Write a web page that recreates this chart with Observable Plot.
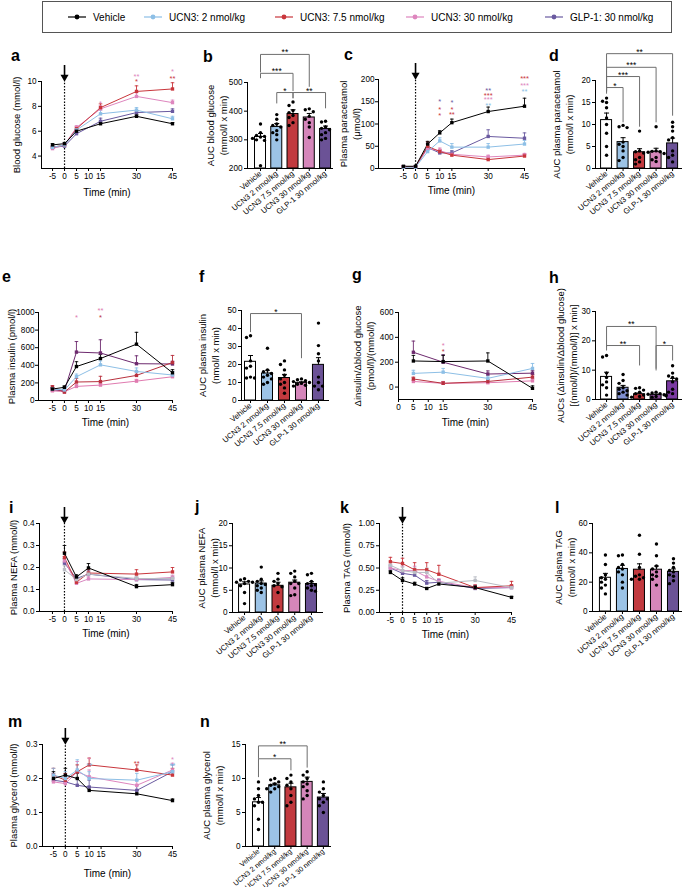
<!DOCTYPE html>
<html><head><meta charset="utf-8">
<script src="https://cdn.jsdelivr.net/npm/d3@7"></script>
<script src="https://cdn.jsdelivr.net/npm/@observablehq/plot@0.6"></script>
<style>
body{margin:0;background:#fff;font-family:"Liberation Sans",Arial,sans-serif;}
#root{position:relative;width:685px;height:887px;overflow:hidden;background:#fff;}
.pan{position:absolute;}
.pan svg{overflow:visible!important;background:transparent!important;}
.lbl{position:absolute;font-weight:bold;font-size:16px;line-height:16px;font-family:"Liberation Sans",Arial,sans-serif;}
#legend{position:absolute;left:42px;top:1px;width:630px;height:32px;border:1px solid #555;box-sizing:border-box;}
.li{position:absolute;top:0;height:30px;display:flex;align-items:center;font-size:10px;font-family:"Liberation Sans Narrow","Liberation Sans",Arial,sans-serif;white-space:nowrap;}
.li svg{margin-right:6px;}
</style></head><body><div id="root"><div id="legend"></div></div>
<script>
// ---------- shared categories / colours ----------
const groupNames = ["Vehicle","UCN3: 2 nmol/kg","UCN3: 7.5 nmol/kg","UCN3: 30 nmol/kg","GLP-1: 30 nmol/kg"];
const barLabels = ["Vehicle","UCN3 2 nmol/kg","UCN3 7.5 nmol/kg","UCN3 30 nmol/kg","GLP-1 30 nmol/kg"];
const lineColors = ["#000000","#8dbfe6","#c9363c","#de86be","#6a5aa0"];
const insulinColors = ["#000000","#8dbfe6","#b8313e","#e07bb0","#6d2a6e"];
const lipidColors = ["#000000","#b9bcc4","#c9363c","#d888c0","#6a5aa0"];
const barFills = ["#ffffff","#9cc3e6","#c23a3f","#d586ba","#6b5296"];
const hFills = ["#ffffff","#7f8fd0","#c0353b","#8a4a9a","#7a3aa2"];
const legendX = [76,152,283,414,553];

// ---------- a: blood glucose ----------
const timeA = [-5,0,5,15,30,45];
const glucoseMean = [
 [4.9,5.0,6.0,6.6,7.2,6.6],
 [4.7,4.9,6.1,7.4,7.7,7.0],
 [4.7,4.9,6.2,7.9,9.2,9.4],
 [4.6,4.9,6.3,7.8,8.8,8.3],
 [4.7,4.8,5.8,6.8,7.5,7.6]];
const glucoseSem = [
 [0.1,0.1,0.12,0.12,0.12,0.1],
 [0.1,0.1,0.12,0.3,0.2,0.2],
 [0.1,0.1,0.15,0.3,0.45,0.5],
 [0.1,0.1,0.15,0.25,0.3,0.2],
 [0.1,0.1,0.12,0.25,0.15,0.2]];
const glucoseStars = [{t:15,y:8.4,s:"*",g:3},{t:30,y:10.56,s:"**",g:3},{t:30,y:10.16,s:"*",g:2},{t:45,y:10.97,s:"*",g:3},{t:45,y:10.4,s:"**",g:2}];

// ---------- b: AUC glucose ----------
const glucoseAuc = [310,345,390,378,338];
const glucoseAucSem = [12,12,15,14,10];
const glucoseAucPts = [
 [355,325,315,312,310,305,300,298,210],
 [388,372,355,350,345,332,325,318,300],
 [432,420,402,395,385,378,360,350],
 [408,405,398,382,372,360,345,308],
 [365,362,345,340,335,325,318,305,300]];
const glucoseAucBrackets = [
 {a:0,b:3,y:598,ya:535,yb:485,s:"**"},
 {a:0,b:2,y:532,ya:515,yb:470,s:"***"},
 {a:1,b:2,y:465,ya:427,yb:445,s:"*"},
 {a:2,b:4,y:465,ya:445,yb:410,s:"**"}];

// ---------- c: paracetamol ----------
const timeC = [-5,0,5,10,15,30,45];
const paraMean = [
 [5,5,55,80,103,128,140],
 [3,3,38,62,48,48,55],
 [4,4,50,38,30,20,28],
 [4,4,45,40,32,26,30],
 [4,4,47,35,35,72,68]];
const paraSem = [
 [1,1,6,5,8,10,18],
 [1,1,5,7,8,8,8],
 [1,1,10,5,4,4,4],
 [1,1,12,6,4,4,4],
 [1,1,8,5,5,15,12]];
const paraStars = [
 {t:10,y:157,s:"*",g:4},{t:10,y:139,s:"*",g:2},{t:10,y:124,s:"*",g:2},
 {t:15,y:153,s:"*",g:4},{t:15,y:139,s:"*",g:2},{t:15,y:126,s:"**",g:2},
 {t:30,y:180,s:"**",g:4},{t:30,y:169,s:"***",g:2},{t:30,y:160,s:"***",g:3},{t:30,y:148,s:"**",g:1},
 {t:45,y:207,s:"***",g:2},{t:45,y:193,s:"***",g:3},{t:45,y:178,s:"**",g:1}];

// ---------- d: AUC paracetamol ----------
const paraAuc = [11,6,3.7,3.8,5.7];
const paraAucSem = [1.6,1,0.8,0.8,1.2];
const paraAucPts = [
 [16,15.3,15,13.8,11.5,10,8,5,3],
 [9.8,9.5,9.3,6,5.5,5,4,2.5,1.8],
 [8.5,4,3.8,3.5,2.5,2,1.5,1],
 [9.5,4,3.9,3.8,3.7,3.4,2.5,2,1.6],
 [10.5,9.5,8.5,7,6.5,4,3,2.5,1.5]];
const paraAucBrackets = [
 {a:0,b:4,y:26.1,ya:17.5,yb:12,s:"**"},
 {a:0,b:3,y:23,ya:17.5,yb:10.5,s:"***"},
 {a:0,b:2,y:20.9,ya:17.5,yb:9.5,s:"***"},
 {a:0,b:1,y:18.4,ya:17,yb:10.5,s:"*"}];

// ---------- e: insulin ----------
const timeE = [-5,0,5,15,30,45];
const insulinMean = [
 [130,150,386,477,640,315],
 [130,120,270,405,330,290],
 [150,95,210,215,285,432],
 [110,100,160,175,220,270],
 [120,110,550,540,418,415]];
const insulinSem = [
 [15,15,55,45,135,35],
 [20,15,30,45,40,40],
 [20,15,40,60,40,80],
 [15,10,20,20,20,20],
 [20,15,120,150,90,30]];
const insulinStars = [{t:5,y:966,s:"*",g:3},{t:15,y:1045,s:"**",g:3},{t:15,y:966,s:"*",g:2}];

// ---------- f: AUC insulin ----------
const insulinAuc = [21.5,15,12.5,9.8,19.8];
const insulinAucSem = [3.5,1.8,2,0.6,4];
const insulinAucPts = [
 [36,35,22,19,18,13,12.5,12.5],
 [29,17,16,15,14,13,12,10,9],
 [22,20,17,14,12,10,9,7,4],
 [12,11.5,11,10.5,10,9.5,9,8.5,8],
 [43,30.5,26,22,13,10,8,8,6]];
const insulinAucBrackets = [{a:0,b:3,y:48.3,ya:38,yb:23.5,s:"*"}];

// ---------- g: insulin / glucose ratio ----------
const timeG = [5,15,30,45];
const ratioMean = [
 [210,205,210,-10],
 [110,120,70,150],
 [65,30,45,80],
 [45,30,35,50],
 [280,200,105,112]];
const ratioSem = [
 [45,50,65,20],
 [25,30,20,40],
 [15,15,15,20],
 [10,10,10,15],
 [90,60,25,20]];
const ratioStars = [{t:15,y:352,s:"*",g:3},{t:15,y:304,s:"*",g:2}];

// ---------- h: AUC ratio ----------
const ratioAuc = [7.7,4,1.8,1.6,6.2];
const ratioAucSem = [1.6,0.8,0.4,0.2,1];
const ratioAucPts = [
 [15,14.5,9,7.5,6,5,4,1.5],
 [8.5,6.5,5.5,4,3.5,3,2.5,2,1.5],
 [4,3.8,3.2,2.5,2,1.5,1,0.8],
 [2.5,2.2,2,1.8,1.5,1.3,1,0.8,1.6],
 [11.5,9,8,7.5,7,6,3.5,2.5,2]];
const ratioAucBrackets = [
 {a:0,b:3,y:24.9,ya:17.8,yb:10.5,s:"**"},
 {a:0,b:2,y:18.4,ya:16.7,yb:11.6,s:"**"},
 {a:3,b:4,y:18.4,ya:9.9,yb:13.3,s:"*"}];

// ---------- i: NEFA ----------
const timeI = [0,5,10,30,45];
const nefaMean = [
 [0.265,0.157,0.198,0.113,0.122],
 [0.19,0.145,0.17,0.15,0.15],
 [0.245,0.133,0.175,0.17,0.18],
 [0.23,0.128,0.148,0.145,0.155],
 [0.22,0.15,0.17,0.145,0.143]];
const nefaSem = [
 [0.035,0.01,0.02,0.01,0.01],
 [0.02,0.01,0.01,0.01,0.01],
 [0.025,0.01,0.015,0.02,0.02],
 [0.02,0.01,0.01,0.01,0.01],
 [0.02,0.01,0.015,0.01,0.01]];

// ---------- j: AUC NEFA ----------
const nefaAuc = [6.3,6.5,6.0,6.7,6.4];
const nefaAucSem = [0.6,0.6,0.8,0.6,0.5];
const nefaAucPts = [
 [7.6,7.3,7,6.8,6.8,6.5,6,4.5,2],
 [10.2,7.5,7,6.5,6.3,6,5.5,5,4.5],
 [8.8,7.5,7,6.5,6,5.8,4.5,1.3],
 [9.3,8.8,8,7,6.5,6.5,5.5,4,3.8],
 [8.8,8.5,7,6.5,6.2,6,5.5,5,4.8]];

// ---------- k: TAG ----------
const timeK = [-5,0,5,10,15,30,45];
const tagMean = [
 [0.45,0.36,0.32,0.27,0.32,0.28,0.17],
 [0.53,0.47,0.45,0.45,0.33,0.36,0.28],
 [0.57,0.55,0.48,0.48,0.43,0.28,0.30],
 [0.50,0.47,0.47,0.40,0.35,0.28,0.28],
 [0.50,0.44,0.42,0.33,0.34,0.27,0.28]];
const tagSem = [
 [0.02,0.03,0.02,0.01,0.02,0.02,0.01],
 [0.04,0.04,0.05,0.05,0.03,0.04,0.03],
 [0.05,0.06,0.08,0.08,0.1,0.03,0.05],
 [0.04,0.05,0.05,0.05,0.03,0.03,0.02],
 [0.03,0.03,0.04,0.03,0.03,0.02,0.02]];

// ---------- l: AUC TAG ----------
const tagAuc = [23,29,28.5,28.5,27];
const tagAucSem = [3,2.5,4,2.5,2];
const tagAucPts = [
 [38.5,32,25,23,22,20,18,16,12],
 [38.5,38,32,30,29,27,25,20,16],
 [52,39,30,25,24,23,22,22],
 [46,38,31,29,27,25,24,22,18],
 [36,33,30,28,27,25,24,21,19]];

// ---------- m: glycerol ----------
const timeM = [-5,0,5,10,30,45];
const glyMean = [
 [0.20,0.21,0.20,0.165,0.155,0.135],
 [0.21,0.20,0.225,0.20,0.195,0.22],
 [0.21,0.195,0.22,0.24,0.225,0.21],
 [0.19,0.185,0.22,0.205,0.18,0.225],
 [0.195,0.19,0.18,0.175,0.165,0.22]];
const glySem = [
 [0.02,0.02,0.015,0.01,0.01,0.005],
 [0.02,0.02,0.03,0.02,0.02,0.02],
 [0.02,0.02,0.02,0.02,0.015,0.02],
 [0.02,0.02,0.03,0.02,0.015,0.02],
 [0.02,0.02,0.02,0.02,0.015,0.02]];
const glyStars = [{t:10,y:0.262,s:"*",g:3},{t:10,y:0.245,s:"**",g:1},{t:30,y:0.25,s:"**",g:2},{t:45,y:0.262,s:"*",g:3},{t:45,y:0.245,s:"**",g:1}];

// ---------- n: AUC glycerol ----------
const glyAuc = [6.5,9.0,8.7,9.5,7.2];
const glyAucSem = [0.7,0.3,0.6,0.7,0.6];
const glyAucPts = [
 [9.5,8.5,7.5,7,6.5,6.5,6,4,2.5],
 [10,9.8,9.5,9.2,9,8.8,8.5,8.5,8],
 [10.5,10,9.5,9,8.5,7.5,6.5,6],
 [11,10.5,10,9.5,9.2,8.8,8.2,7.5,7],
 [9.5,8.5,8,7.5,7,7,6.5,6,5]];
const glyAucBrackets = [
 {a:0,b:3,y:14.8,ya:12.9,yb:11.6,s:"**"},
 {a:0,b:2,y:12.9,ya:10.2,yb:11.2,s:"*"}];

// ================= drawing helpers =================
const root = document.getElementById("root");
const FONT = "Liberation Sans, Arial, sans-serif";
const TICK = 8.2, LAB = 9.5;
function place(node, left, top){
  const d = document.createElement("div"); d.className = "pan";
  d.style.left = left + "px"; d.style.top = top + "px";
  d.appendChild(node); root.appendChild(d);
}
function letter(ch, x, baseline){
  const d = document.createElement("div"); d.className = "lbl"; d.textContent = ch;
  d.style.left = x + "px"; d.style.top = (baseline - 13) + "px"; root.appendChild(d);
}
function frameOpts(c){
  return {
    width: c.width, height: c.height,
    marginLeft: c.fx0 - c.left, marginRight: c.left + c.width - c.fx1,
    marginTop: c.fy0 - c.top, marginBottom: c.top + c.height - c.fy1,
    x: {domain: c.xDomain}, y: {domain: c.yDomain},
    color: {type: "identity"},
    style: {fontFamily: FONT, fontSize: TICK + "px", overflow: "visible", background: "transparent", color: "#000"}
  };
}
function yLabelMark(c){
  return Plot.text([c.yLabel], {frameAnchor: "left", dx: c.yLabelDx, rotate: -90, fontSize: LAB, lineHeight: 1.35, textAnchor: "middle", lineAnchor: "middle", fill: "#000"});
}

function linePanel(c){
  const [xmin, xmax] = c.xDomain, [ymin, ymax] = c.yDomain;
  const pxY = (c.fy1 - c.fy0) / (ymax - ymin);
  const pxX = (c.fx1 - c.fx0) / (xmax - xmin);
  const rows = [];
  for (const g of [4,3,2,1,0]) c.times.forEach((t, j) => rows.push({g, t, v: c.means[g][j], e: c.sems[g][j]}));
  const col = d => c.colors[d.g];
  const cap = 1.8 / pxX;
  const marks = [
    Plot.ruleX([xmin], {y1: ymin, y2: ymax, stroke: "#000", strokeWidth: 1}),
    Plot.ruleY([ymin], {x1: xmin, x2: xmax, stroke: "#000", strokeWidth: 1}),
    Plot.axisY(c.yTicks, {tickSize: 3, tickPadding: c.yPad ?? 2, tickFormat: c.yFormat || (d => String(d)), fontSize: TICK, label: null}),
    Plot.axisX(c.xTicks, {tickSize: 3, tickPadding: 2, tickFormat: d => String(d), fontSize: TICK, label: null})
  ];
  if (c.arrow) {
    marks.push(
      Plot.ruleX([0], {y1: ymin, y2: ymax, stroke: "#000", strokeDasharray: "1.5,1.6", strokeWidth: 1.2}),
      Plot.ruleX([0], {y1: ymax + 16 / pxY, y2: ymax + 5 / pxY, stroke: "#000", strokeWidth: 1.6}),
      Plot.dot([0], {x: d => d, y: ymax + 4.3 / pxY, symbol: "triangle", rotate: 180, r: 3, fill: "#000", stroke: "none"})
    );
  }
  marks.push(
    Plot.ruleX(rows, {x: "t", y1: "v", y2: d => d.v + d.e, stroke: col, strokeWidth: 0.9}),
    Plot.link(rows, {x1: d => d.t - cap, x2: d => d.t + cap, y1: d => d.v + d.e, y2: d => d.v + d.e, stroke: col, strokeWidth: 0.9}),
    Plot.line(rows, {x: "t", y: "v", z: "g", stroke: col, strokeWidth: 1}),
    Plot.dot(rows, {x: "t", y: "v", fill: col, stroke: "none", r: 1.9, symbol: "square"}),
    yLabelMark(c),
    Plot.text(["Time (min)"], {frameAnchor: "bottom", dy: c.xLabelDy, fontSize: 10, lineAnchor: "middle", fill: "#000"})
  );
  if (c.stars) marks.push(Plot.text(c.stars, {x: "t", y: "y", text: "s", fill: d => c.colors[d.g], fontSize: 7.5, dy: 2.5}));
  const opts = frameOpts(c); opts.marks = marks;
  place(Plot.plot(opts), c.left, c.top);
}

function swarm(vals, pxX, pxY){
  const idx = vals.map((v, i) => i).sort((a, b) => vals[b] - vals[a]);
  const off = new Array(vals.length).fill(0);
  const placed = [];
  const cand = [0,-4,4,-8,8,-2,2,-6,6,-10,10];
  for (const i of idx) {
    const y = vals[i] * pxY;
    let chosen = cand[cand.length - 1];
    for (const cc of cand) {
      if (placed.every(p => Math.hypot(p[0] - cc, p[1] - y) >= 3.8)) { chosen = cc; break; }
    }
    placed.push([chosen, y]); off[i] = chosen / pxX;
  }
  return off;
}

function barPanel(c){
  const [xmin, xmax] = c.xDomain, [ymin, ymax] = c.yDomain;
  const pxY = (c.fy1 - c.fy0) / (ymax - ymin);
  const pxX = (c.fx1 - c.fx0) / (xmax - xmin);
  const bars = c.means.map((m, i) => ({i, m, e: c.sems[i]}));
  const pts = [];
  c.pts.forEach((arr, i) => { const off = swarm(arr, pxX, pxY); arr.forEach((v, k) => pts.push({x: i + off[k], v})); });
  const hw = 5.5 / pxX, cap = 2.5 / pxX;
  const segs = [], labs = [];
  for (const b of (c.brackets || [])) {
    segs.push({x1: b.a, x2: b.b, y1: b.y, y2: b.y});
    segs.push({x1: b.a, x2: b.a, y1: b.y, y2: b.ya});
    segs.push({x1: b.b, x2: b.b, y1: b.y, y2: b.yb});
    labs.push({x: (b.a + b.b) / 2, y: b.y, s: b.s});
  }
  const marks = [
    Plot.rect(bars, {x1: d => d.i - hw, x2: d => d.i + hw, y1: ymin, y2: "m", fill: d => c.fills[d.i], stroke: "#000", strokeWidth: 1}),
    Plot.dot(pts, {x: "x", y: "v", fill: "#000", stroke: "none", r: 1.7}),
    Plot.ruleX(bars, {x: "i", y1: "m", y2: d => d.m + d.e, stroke: "#000", strokeWidth: 1}),
    Plot.link(bars, {x1: d => d.i - cap, x2: d => d.i + cap, y1: d => d.m + d.e, y2: d => d.m + d.e, stroke: "#000", strokeWidth: 1}),
    Plot.ruleX([xmin], {y1: ymin, y2: ymax, stroke: "#000", strokeWidth: 1}),
    Plot.ruleY([ymin], {x1: xmin, x2: xmax, stroke: "#000", strokeWidth: 1}),
    Plot.axisY(c.yTicks, {tickSize: 3, tickPadding: 2, tickFormat: d => String(d), fontSize: TICK, label: null}),
    Plot.axisX([0,1,2,3,4], {tickSize: 3, tickPadding: 1, tickRotate: -40, tickFormat: i => barLabels[i], fontSize: c.xFont || 7.8, label: null}),
    Plot.link(segs, {x1: "x1", x2: "x2", y1: "y1", y2: "y2", stroke: "#6e6e6e", strokeWidth: 1}),
    Plot.text(labs, {x: "x", y: "y", text: "s", fontSize: 8.5, dy: 1, lineAnchor: "bottom", fill: "#000"}),
    yLabelMark(c)
  ];
  const opts = frameOpts(c); opts.marks = marks;
  place(Plot.plot(opts), c.left, c.top);
}

// ================= legend =================
const legend = document.getElementById("legend");
groupNames.forEach((name, i) => {
  const it = document.createElement("div"); it.className = "li";
  it.style.left = (legendX[i] - 42 - 10) + "px";
  it.innerHTML = `<svg width="20" height="8"><line x1="1" y1="4" x2="19" y2="4" stroke="${lineColors[i]}" stroke-width="1.2"/><circle cx="10" cy="4" r="2.4" fill="${lineColors[i]}"/></svg>`;
  const sp = document.createElement("span"); sp.textContent = name; it.appendChild(sp);
  legend.appendChild(it);
});

const tAll = [-5,0,5,10,15,30,45];
// ================= panels =================
linePanel({left:0, top:40, width:180, height:195, fx0:41, fx1:172, fy0:81, fy1:168, xDomain:[-9.6,45], yDomain:[3,10],
  xTicks:tAll, yTicks:[4,6,8,10], times:timeA, means:glucoseMean, sems:glucoseSem, colors:lineColors,
  yLabel:"Blood glucose (mmol/l)", yLabelDx:-26, xLabelDy:24, arrow:true, stars:glucoseStars});
barPanel({left:170, top:40, width:170, height:195, fx0:247, fx1:333, fy0:82, fy1:168, xDomain:[-0.8,4.49], yDomain:[200,500],
  yTicks:[200,300,400,500], means:glucoseAuc, sems:glucoseAucSem, pts:glucoseAucPts, fills:barFills, brackets:glucoseAucBrackets,
  yLabel:"AUC blood glucose\n(mmol/l x min)", yLabelDx:-31});
linePanel({left:340, top:40, width:185, height:195, fx0:378, fx1:524, fy0:79, fy1:168, xDomain:[-15.3,45], yDomain:[0,200],
  xTicks:tAll, yTicks:[0,50,100,150,200], times:timeC, means:paraMean, sems:paraSem, colors:lineColors,
  yLabel:"Plasma paracetamol\n(μmol/l)", yLabelDx:-29, yPad:1, xLabelDy:22, arrow:true, stars:paraStars});
barPanel({left:510, top:40, width:175, height:195, fx0:595, fx1:682, fy0:80, fy1:168, xDomain:[-0.67,4.6], yDomain:[0,20],
  yTicks:[0,5,10,15,20], means:paraAuc, sems:paraAucSem, pts:paraAucPts, fills:barFills, brackets:paraAucBrackets,
  yLabel:"AUC plasma paracetamol\n(mmol/l x min)", yLabelDx:-33});

linePanel({left:0, top:250, width:180, height:200, fx0:38, fx1:172, fy0:312, fy1:400, xDomain:[-10.8,45], yDomain:[0,1000],
  xTicks:tAll, yTicks:[0,200,400,600,800,1000], times:timeE, means:insulinMean, sems:insulinSem, colors:insulinColors,
  yLabel:"Plasma insulin (pmol/l)", yLabelDx:-28, yPad:1, xLabelDy:22, arrow:false, stars:insulinStars});
barPanel({left:170, top:250, width:170, height:200, fx0:241, fx1:329, fy0:310, fy1:400, xDomain:[-0.53,4.65], yDomain:[0,50],
  yTicks:[0,10,20,30,40,50], means:insulinAuc, sems:insulinAucSem, pts:insulinAucPts, fills:barFills, brackets:insulinAucBrackets,
  yLabel:"AUC plasma insulin\n(nmol/l x min)", yLabelDx:-33});
linePanel({left:340, top:250, width:195, height:200, fx0:398, fx1:532, fy0:312, fy1:399, xDomain:[0,45], yDomain:[-100,600],
  xTicks:[0,5,10,15,30,45], yTicks:[0,200,400,600], times:timeG, means:ratioMean, sems:ratioSem, colors:insulinColors,
  yLabel:"Δinsulin/Δblood glucose\n(pmol/l)/(mmol/l)", yLabelDx:-35, xLabelDy:23, arrow:false, stars:ratioStars});
barPanel({left:510, top:250, width:175, height:200, fx0:595, fx1:682, fy0:311, fy1:399, xDomain:[-0.67,4.6], yDomain:[0,30],
  yTicks:[0,10,20,30], means:ratioAuc, sems:ratioAucSem, pts:ratioAucPts, fills:hFills, brackets:ratioAucBrackets,
  yLabel:"AUCs (Δinsulin/Δblood glucose)\n[(nmol/l)/(mmol/l)] x min]", yLabelDx:-29});

linePanel({left:0, top:480, width:180, height:180, fx0:39, fx1:172, fy0:523, fy1:611, xDomain:[-10.4,45], yDomain:[0,0.4],
  xTicks:tAll, yTicks:[0,0.1,0.2,0.3,0.4], yFormat:d3.format(".1f"), times:timeI, means:nefaMean, sems:nefaSem, colors:lipidColors,
  yLabel:"Plasma NEFA (mmol/l)", yLabelDx:-27, xLabelDy:22, arrow:true});
barPanel({left:170, top:480, width:170, height:180, fx0:232, fx1:323, fy0:523, fy1:612, xDomain:[-0.72,4.72], yDomain:[0,20],
  yTicks:[0,5,10,15,20], means:nefaAuc, sems:nefaAucSem, pts:nefaAucPts, fills:barFills,
  yLabel:"AUC plasma NEFA\n(mmol/l x min)", yLabelDx:-25});
linePanel({left:340, top:480, width:185, height:180, fx0:379, fx1:511, fy0:523, fy1:612, xDomain:[-9.5,45], yDomain:[0,1],
  xTicks:tAll, yTicks:[0,0.25,0.5,0.75,1], yFormat:d3.format(".2f"), times:timeK, means:tagMean, sems:tagSem, colors:lipidColors,
  yLabel:"Plasma TAG (mmol/l)", yLabelDx:-34, xLabelDy:22, arrow:true});
barPanel({left:510, top:480, width:175, height:180, fx0:592, fx1:682, fy0:523, fy1:611, xDomain:[-0.76,4.53], yDomain:[0,60],
  yTicks:[0,20,40,60], means:tagAuc, sems:tagAucSem, pts:tagAucPts, fills:barFills,
  yLabel:"AUC plasma TAG\n(mmol/l x min)", yLabelDx:-28});

linePanel({left:0, top:690, width:180, height:197, fx0:42, fx1:172, fy0:744, fy1:846, xDomain:[-9.6,45], yDomain:[0,0.3],
  xTicks:tAll, yTicks:[0,0.1,0.2,0.3], yFormat:d3.format(".1f"), times:timeM, means:glyMean, sems:glySem, colors:lineColors,
  yLabel:"Plasma glycerol (mmol/l)", yLabelDx:-30, xLabelDy:27, arrow:true, stars:glyStars});
barPanel({left:170, top:690, width:170, height:197, fx0:245, fx1:331, fy0:744, fy1:846, xDomain:[-0.8,4.5], yDomain:[0,15],
  yTicks:[0,5,10,15], means:glyAuc, sems:glyAucSem, pts:glyAucPts, fills:barFills, brackets:glyAucBrackets,
  yLabel:"AUC plasma glycerol\n(mmol/l x min)", yLabelDx:-33, xFont:7.2});

// ================= panel letters =================
letter("a", 11, 61); letter("b", 203, 62); letter("c", 344, 60); letter("d", 549, 61);
letter("e", 2, 282); letter("f", 199, 282); letter("g", 352, 280); letter("h", 549, 283);
letter("i", 9, 513); letter("j", 195, 512); letter("k", 340, 513); letter("l", 555, 513);
letter("m", 8, 727); letter("n", 200, 727);
</script></body></html>
